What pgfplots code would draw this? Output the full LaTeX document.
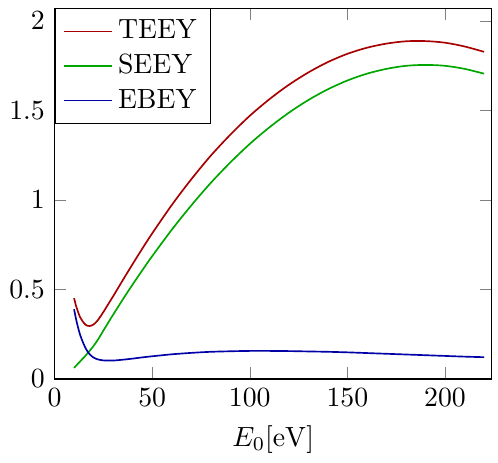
\documentclass[border=0pt]{standalone}
\usepackage{pgfplots}
\pgfplotsset{compat=1.18}
\usepackage{pgfplotstable}

% E0 [eV], SEEY, EBEY, TEEY
\pgfplotstableread{
E    seey   ebey   teey
10   0.062  0.390  0.452
11   0.074  0.335  0.409
12   0.086  0.290  0.376
13   0.097  0.250  0.347
14   0.109  0.220  0.329
15   0.120  0.193  0.313
16   0.132  0.170  0.302
17   0.145  0.152  0.297
18   0.158  0.138  0.296
19   0.171  0.128  0.299
20   0.185  0.120  0.305
22   0.216  0.110  0.326
25   0.270  0.104  0.374
28   0.324  0.103  0.427
30   0.359  0.103  0.462
35   0.445  0.108  0.553
40   0.528  0.114  0.642
45   0.608  0.121  0.729
50   0.686  0.127  0.813
60   0.833  0.138  0.971
70   0.969  0.146  1.115
80   1.095  0.152  1.247
90   1.209  0.155  1.364
100  1.313  0.157  1.470
110  1.405  0.157  1.562
120  1.487  0.156  1.643
130  1.558  0.154  1.712
140  1.618  0.152  1.770
150  1.667  0.149  1.816
160  1.705  0.145  1.850
170  1.732  0.141  1.873
180  1.749  0.137  1.886
190  1.754  0.133  1.887
200  1.749  0.129  1.878
210  1.732  0.125  1.857
220  1.705  0.122  1.827
}\yields

\begin{document}
\begin{tikzpicture}
\begin{axis}[
    scale only axis,
    width=157.5pt, height=133.5pt,
    xmin=0, xmax=224,
    ymin=0, ymax=2.07,
    xtick={0,50,100,150,200},
    ytick={0,0.5,1,1.5,2},
    xlabel={$E_0[\mathrm{eV}]$},
    legend style={at={(0,1)}, anchor=north west},
    legend cell align=left,
    every axis plot/.append style={semithick, smooth, no markers},
]
\addplot[red!65!black] table[x=E, y=teey] {\yields};
\addlegendentry{TEEY}
\addplot[green!65!black] table[x=E, y=seey] {\yields};
\addlegendentry{SEEY}
\addplot[blue!65!black] table[x=E, y=ebey] {\yields};
\addlegendentry{EBEY}
\end{axis}
% a little room on the right, as in the reference
\path ([xshift=2.2pt,yshift=3pt]current axis.north east);
\end{tikzpicture}
\end{document}
